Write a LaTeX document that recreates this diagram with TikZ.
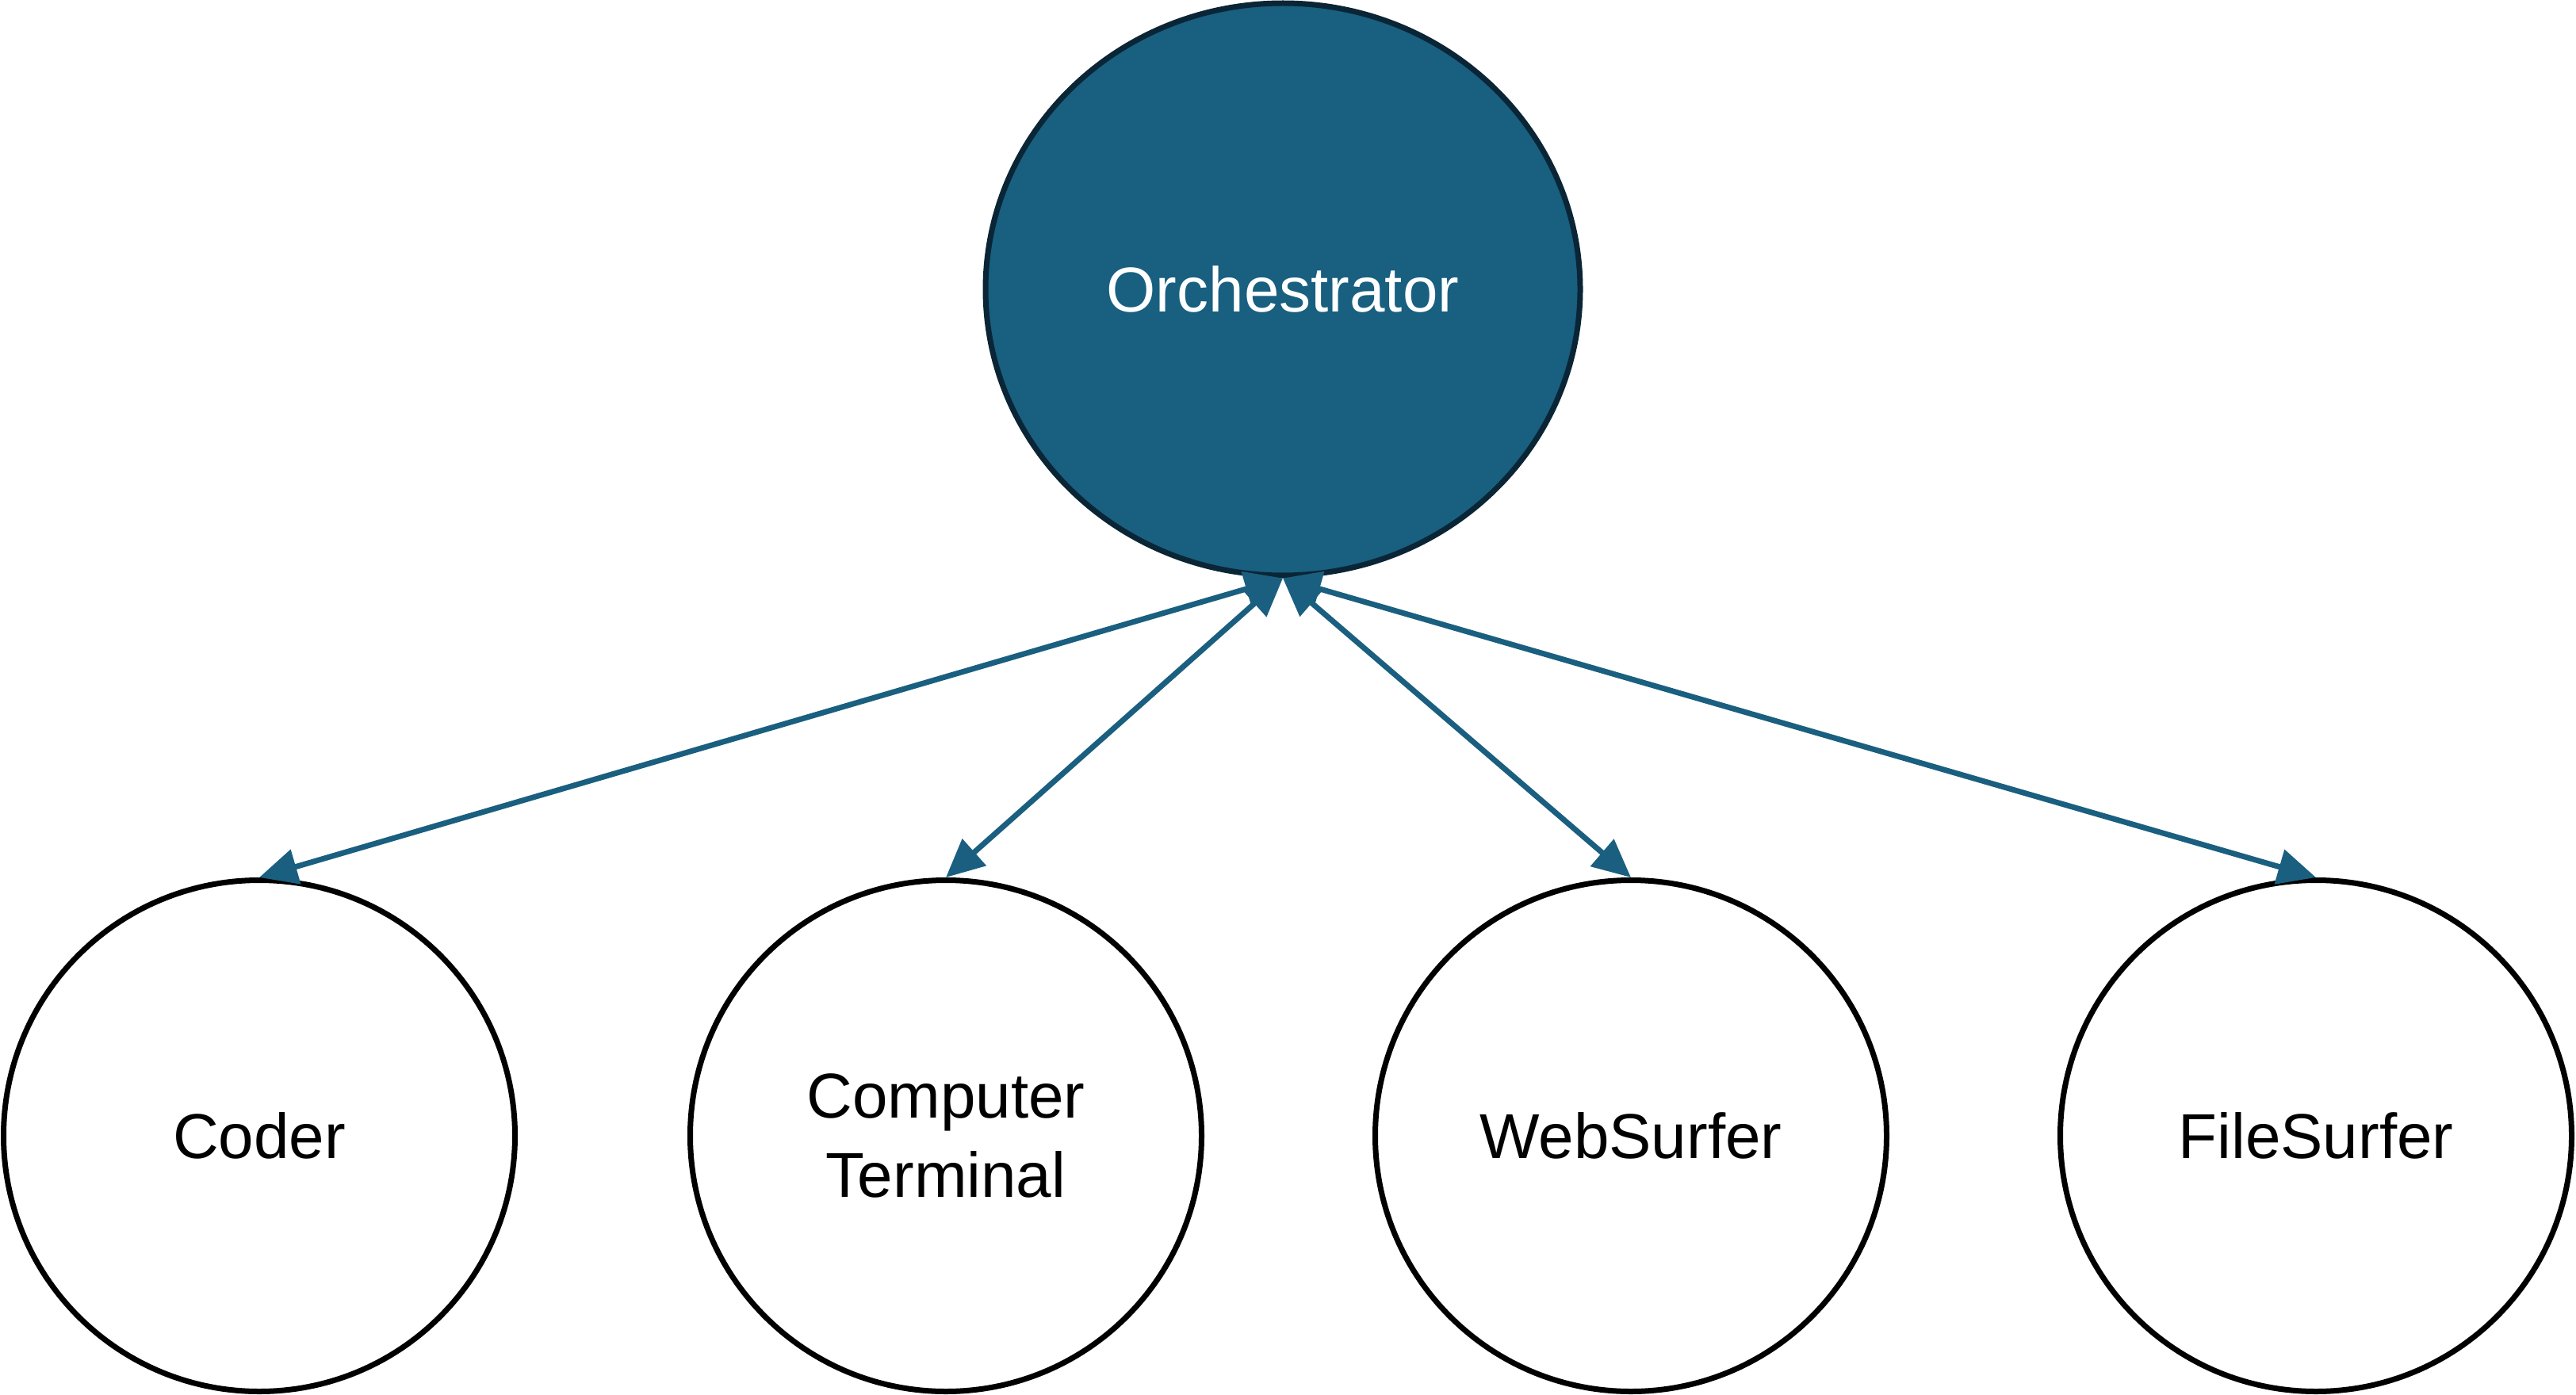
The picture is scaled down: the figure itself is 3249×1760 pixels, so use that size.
\documentclass[tikz,border=0pt]{standalone}
\usepackage{fontspec}
\setmainfont{Liberation Sans}
\usetikzlibrary{arrows.meta,shapes.geometric}
\definecolor{orchfill}{HTML}{185F80}
\definecolor{orchline}{HTML}{0A2535}
\definecolor{arrowcol}{HTML}{1A5F7F}
\tikzset{
  agent/.style={circle, draw=black, line width=7pt, fill=white, minimum size=645pt, inner sep=0pt, align=center, font=\fontsize{80}{100}\selectfont},
  orch/.style={ellipse, draw=orchline, line width=7pt, fill=orchfill, minimum width=750pt, minimum height=722pt, inner sep=0pt, text=white, font=\fontsize{80}{100}\selectfont},
  link/.style={draw=arrowcol, line width=7pt, {Triangle[length=48pt,width=44pt]}-{Triangle[length=48pt,width=44pt]}}
}
\begin{document}
\begin{tikzpicture}[x=1pt,y=-1pt]
\useasboundingbox (0,0) rectangle (3249,1760);
\node[orch] (orch) at (1618,365) {Orchestrator};
\node[agent] (coder) at (327,1433) {Coder};
\node[agent] (term) at (1193,1433) {Computer\\Terminal};
\node[agent] (web) at (2057,1433) {WebSurfer};
\node[agent] (file) at (2921,1433) {FileSurfer};
\draw[link] (orch.south) -- (coder.north);
\draw[link] (orch.south) -- (term.north);
\draw[link] (orch.south) -- (web.north);
\draw[link] (orch.south) -- (file.north);
\end{tikzpicture}
\end{document}
